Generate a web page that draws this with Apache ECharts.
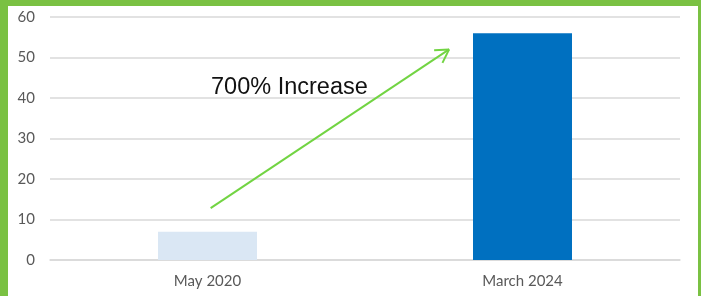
<!DOCTYPE html>
<html>
<head>
<meta charset="UTF-8">
<title></title>
<style>
  html, body { margin: 0; padding: 0; }
  body { width: 701px; height: 296px; background: #7ac143; position: relative; overflow: hidden; }
  #chart { position: absolute; left: 8px; top: 6px; width: 690px; height: 290px; background: #fff; }
</style>
</head>
<body>
<div id="chart"></div>
<script src="https://cdn.jsdelivr.net/npm/echarts@6/dist/echarts.min.js"></script>
<script>
// data
var categories = ['May 2020', 'March 2024'];
var values = [7, 56];
var barColors = ['#dae7f4', '#0070c0'];
var yTicks = [0, 10, 20, 30, 40, 50, 60];
// arrow from near first bar up towards second bar (x in category index units, y in values)
var arrowStart = [0.01, 12.8];
var arrowEnd = [0.767, 52.0];
var note = '700% Increase';

var chart = echarts.init(document.getElementById('chart'));

var option = {
    animation: false,
    title: {
        text: note,
        left: 203,
        top: 70,
        padding: 0,
        textStyle: { fontFamily: 'Liberation Sans, Arial', fontSize: 23.5, fontWeight: 'normal', color: '#111' }
    },
    grid: { left: 42, right: 18, top: 11, bottom: 36 },
    xAxis: [
        {
            type: 'category',
            data: categories,
            axisTick: { show: false },
            axisLine: { lineStyle: { color: '#d9d9d9', width: 1.5 } },
            axisLabel: { color: '#595959', fontSize: 15, fontFamily: 'Lato', margin: 14 }
        },
        {
            // hidden helper axis so the arrow can sit between categories
            type: 'value', show: false, min: -0.5, max: 1.5
        }
    ],
    yAxis: {
        type: 'value',
        min: yTicks[0],
        max: yTicks[yTicks.length - 1],
        interval: 10,
        axisLine: { show: false },
        axisTick: { show: false },
        axisLabel: { color: '#595959', fontSize: 15, fontFamily: 'Lato', margin: 15 },
        splitLine: { lineStyle: { color: '#d9d9d9', width: 1.5 } }
    },
    series: [
        {
            type: 'bar',
            barWidth: 99,
            data: values.map(function (v, i) {
                return { value: v, itemStyle: { color: barColors[i] } };
            })
        },
        {
            type: 'line',
            xAxisIndex: 1,
            data: [],
            markLine: {
                silent: true,
                symbol: ['none', 'none'],
                label: { show: false },
                lineStyle: { color: '#72d443', width: 2, type: 'solid' },
                data: [[{ coord: arrowStart }, { coord: arrowEnd }]]
            }
        }
    ]
};
chart.setOption(option);

// open "V" arrow head: two short strokes back from the tip
var finder = { xAxisIndex: 1, yAxisIndex: 0 };
var p0 = chart.convertToPixel(finder, arrowStart);
var p1 = chart.convertToPixel(finder, arrowEnd);
var ang = Math.atan2(p0[1] - p1[1], p0[0] - p1[0]);
var headLen = 15, spread = Math.PI / 6;
var segs = [[{ coord: arrowStart }, { coord: arrowEnd }]];
[-1, 1].forEach(function (s) {
    var a = ang + s * spread;
    var q = chart.convertFromPixel(finder, [p1[0] + headLen * Math.cos(a), p1[1] + headLen * Math.sin(a)]);
    segs.push([{ coord: arrowEnd }, { coord: q }]);
});
chart.setOption({ series: [{}, { markLine: { data: segs } }] });
</script>
</body>
</html>
